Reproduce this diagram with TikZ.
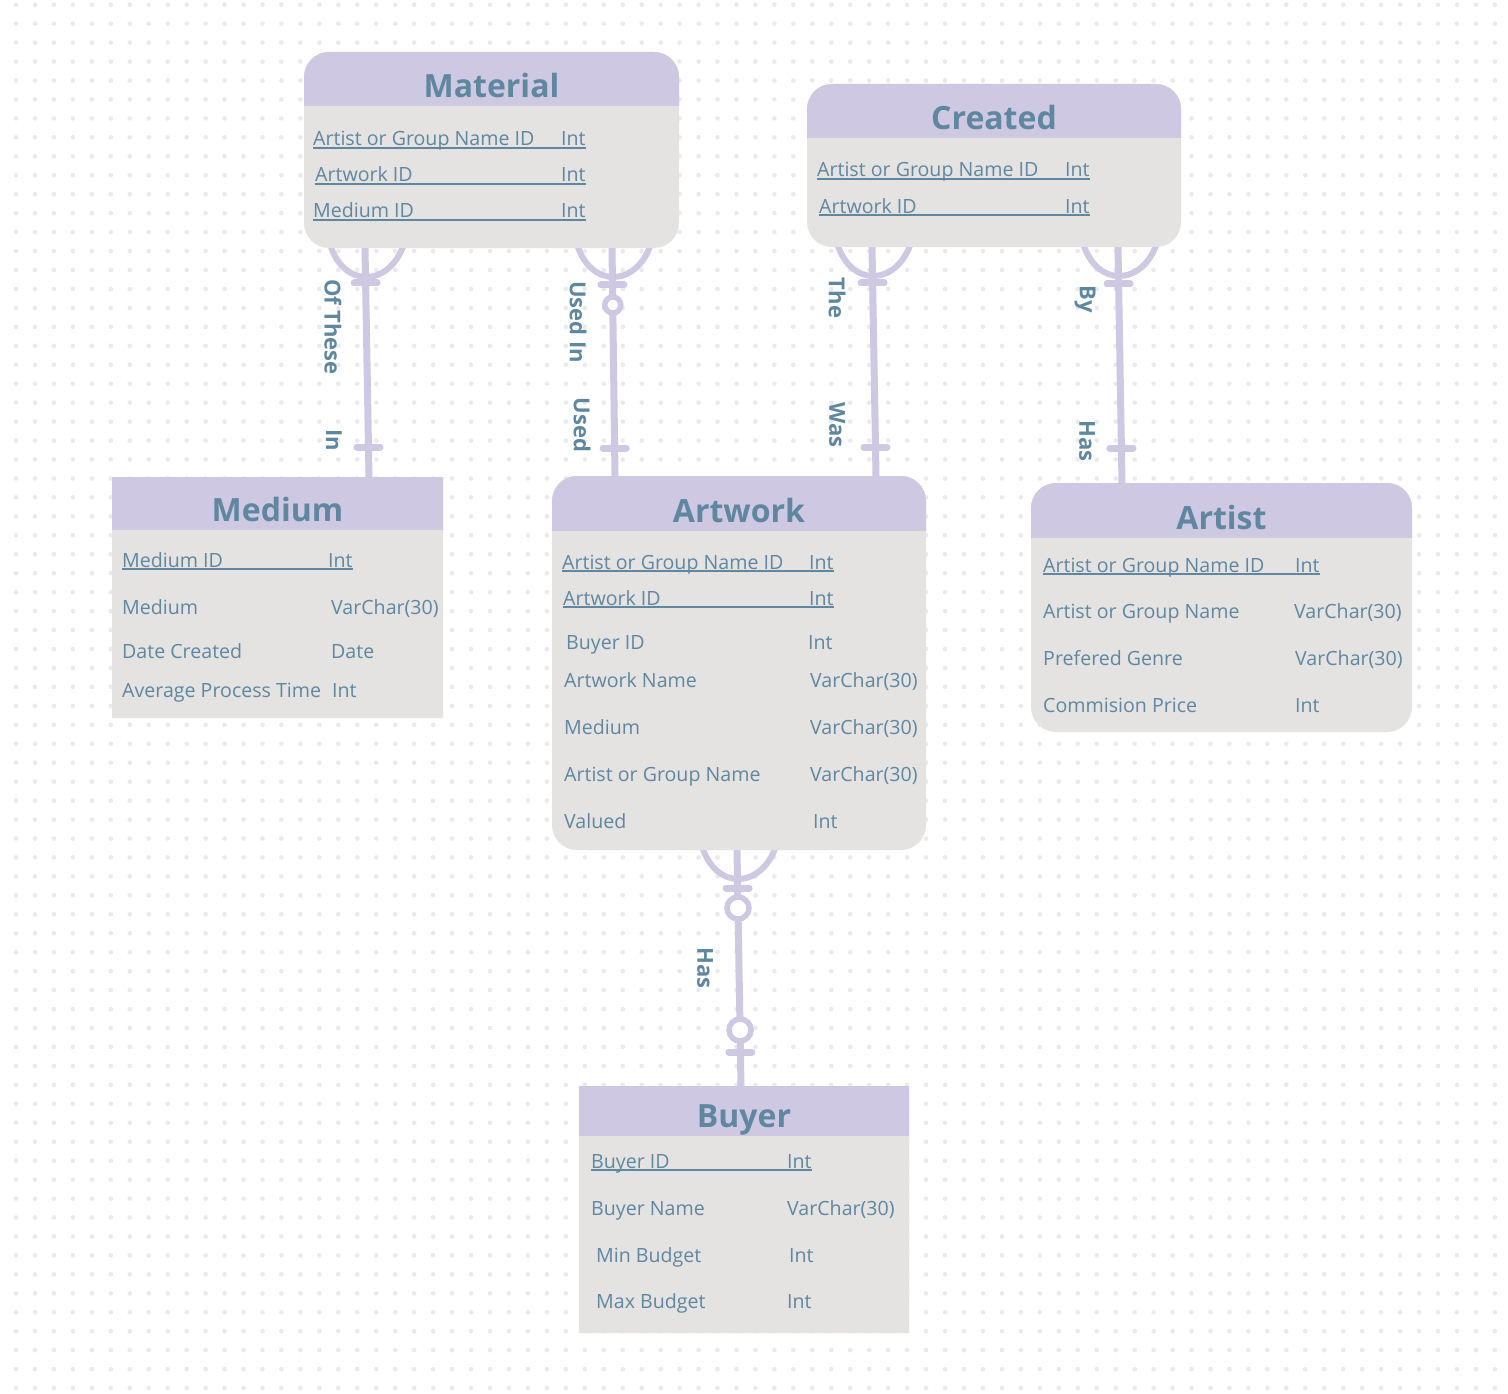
\documentclass[tikz,border=0pt]{standalone}
\usepackage{fontspec}
\setmainfont{Open Sans}
\usepackage{tikz}
\usetikzlibrary{calc}
\definecolor{erHead}{HTML}{CEC8E2}
\definecolor{erBody}{HTML}{E4E3E2}
\definecolor{erText}{HTML}{5F87A0}
\definecolor{erLine}{HTML}{CEC8E2}
\definecolor{erDot}{HTML}{E9E9EF}
\pgfdeclarelayer{back}
\pgfsetlayers{back,main}
\tikzset{
	entbody/.style={fill=erBody, draw=none, inner sep=0, outer sep=0},
	enttitle/.style={anchor=base, inner sep=0, text=erText, font=\fontsize{32}{36}\selectfont\bfseries},
	attr/.style={anchor=base west, inner sep=0, text=erText, font=\fontsize{19.6}{22}\selectfont},
	keyline/.style={draw=erText, line width=1.5pt},
	erline/.style={draw=erLine, line width=7pt},
	erfoot/.style={draw=erLine, line width=6pt},
	erbar/.style={draw=erLine, line width=7pt, line cap=round},
	ercirc/.style={draw=erLine, fill=white, line width=5.5pt},
	rel/.style={rotate=-90, inner sep=0, text=erText, font=\fontsize{22}{25}\selectfont\bfseries}
}
\newcommand{\EntityBox}[7][25pt]{
	\node[entbody, rounded corners=#1, minimum width=#4, minimum height=#5] (#2) at (#3) {};
	\begin{scope}
		\clip (#2.north west) rectangle ([yshift=-#6]#2.north east);
		\fill[erHead, rounded corners=#1] (#2.north west) rectangle (#2.south east);
	\end{scope}
	\node[enttitle] (#2Title) at ([yshift=-#6+8]#2.north) {#7};
}
\newcommand{\Attr}[6]{
	\node[attr] (#1) at (#2,#3) {#4};
	\node[attr] (#1Type) at (#5,#3) {#6};
}
\newcommand{\KeyAttr}[6]{
	\Attr{#1}{#2}{#3}{#4}{#5}{#6}
	\draw[keyline] ([yshift=-2]#1.base west) -- ([yshift=-2]#1Type.base east);
}
\newcommand{\ManyEnd}[1]{
	\draw[erfoot] ($(#1)+(-35,-4)$) .. controls ($(#1)+(-22,40)$) and ($(#1)+(24,40)$) .. ($(#1)+(39,-4)$);
}
\newcommand{\OneBar}[1]{
	\draw[erbar] ($(#1)+(-11.5,0)$) -- ($(#1)+(11.5,0)$);
}
\begin{document}
\begin{tikzpicture}[x=1pt, y=-1pt]

	\useasboundingbox (0,0) rectangle (1508,1394);

	\EntityBox{material}{491.5,150}{375}{196}{54}{Material}
	\EntityBox{created}{994,165.5}{374}{163}{54}{Created}
	\EntityBox[0.1pt]{medium}{277.5,597.5}{331}{241}{52}{Medium}
	\EntityBox{artwork}{739,663}{374}{374}{54}{Artwork}
	\EntityBox{artist}{1221.5,607.5}{381}{249}{54}{Artist}
	\EntityBox[0.1pt]{buyer}{744,1209.5}{330}{247}{49}{Buyer}

	\KeyAttr{matA}{313}{146}{Artist or Group Name ID}{561}{Int}
	\KeyAttr{matB}{315}{182}{Artwork ID}{561}{Int}
	\KeyAttr{matC}{313}{218}{Medium ID}{561}{Int}

	\KeyAttr{creA}{817}{177}{Artist or Group Name ID}{1065}{Int}
	\KeyAttr{creB}{819}{213}{Artwork ID}{1065}{Int}

	\KeyAttr{medA}{122}{567}{Medium ID}{328}{Int}
	\Attr{medB}{122}{614}{Medium}{331}{VarChar(30)}
	\Attr{medC}{122}{658}{Date Created}{331}{Date}
	\Attr{medD}{122}{697}{Average Process Time}{332}{Int}

	\KeyAttr{artA}{562}{569}{Artist or Group Name ID}{809}{Int}
	\KeyAttr{artB}{563}{605}{Artwork ID}{809}{Int}
	\Attr{artC}{566}{649}{Buyer ID}{808}{Int}
	\Attr{artD}{564}{687}{Artwork Name}{810}{VarChar(30)}
	\Attr{artE}{564}{734}{Medium}{810}{VarChar(30)}
	\Attr{artF}{564}{781}{Artist or Group Name}{810}{VarChar(30)}
	\Attr{artG}{564}{828}{Valued}{813}{Int}

	\KeyAttr{atsA}{1043}{572}{Artist or Group Name ID}{1295}{Int}
	\Attr{atsB}{1043}{618}{Artist or Group Name}{1294}{VarChar(30)}
	\Attr{atsC}{1043}{665}{Prefered Genre}{1295}{VarChar(30)}
	\Attr{atsD}{1043}{712}{Commision Price}{1295}{Int}

	\KeyAttr{buyA}{591}{1168}{Buyer ID}{787}{Int}
	\Attr{buyB}{591}{1215}{Buyer Name}{787}{VarChar(30)}
	\Attr{buyC}{596}{1262}{Min Budget}{789}{Int}
	\Attr{buyD}{596}{1308}{Max Budget}{787}{Int}

	\coordinate (matMedTop) at ([xshift=61]material.south west);
	\coordinate (matMedBot) at ([xshift=257]medium.north west);
	\coordinate (matArtTop) at ([xshift=308]material.south west);
	\coordinate (matArtBot) at ([xshift=63]artwork.north west);
	\coordinate (creArtTop) at ([xshift=65]created.south west);
	\coordinate (creArtBot) at ([xshift=324]artwork.north west);
	\coordinate (creAtsTop) at ([xshift=311]created.south west);
	\coordinate (creAtsBot) at ([xshift=91]artist.north west);
	\coordinate (artBuyTop) at ([xshift=185]artwork.south west);
	\coordinate (artBuyBot) at ([xshift=162]buyer.north west);

	\begin{pgfonlayer}{back}
		\fill[white] (0,0) rectangle (1508,1394);
		\foreach \i in {0,...,78}{
			\foreach \j in {0,...,73}{
				\fill[erDot] (16+18.96*\i,4.7+18.95*\j) circle (2.3pt);
			}
		}

		\draw[erline] (matMedTop) -- (matMedBot);
		\ManyEnd{matMedTop}
		\OneBar{$(matMedTop)!35pt!(matMedBot)$}
		\OneBar{$(matMedBot)!30pt!(matMedTop)$}

		\draw[erline] (matArtTop) -- (matArtBot);
		\ManyEnd{matArtTop}
		\OneBar{$(matArtTop)!37pt!(matArtBot)$}
		\draw[ercirc] ($(matArtTop)!57pt!(matArtBot)$) circle (8pt);
		\OneBar{$(matArtBot)!28pt!(matArtTop)$}

		\draw[erline] (creArtTop) -- (creArtBot);
		\ManyEnd{creArtTop}
		\OneBar{$(creArtTop)!36pt!(creArtBot)$}
		\OneBar{$(creArtBot)!29pt!(creArtTop)$}

		\draw[erline] (creAtsTop) -- (creAtsBot);
		\ManyEnd{creAtsTop}
		\OneBar{$(creAtsTop)!37pt!(creAtsBot)$}
		\OneBar{$(creAtsBot)!35pt!(creAtsTop)$}

		\draw[erline] (artBuyTop) -- (artBuyBot);
		\ManyEnd{artBuyTop}
		\OneBar{$(artBuyTop)!38pt!(artBuyBot)$}
		\draw[ercirc] ($(artBuyTop)!58pt!(artBuyBot)$) circle (11pt);
		\draw[ercirc] ($(artBuyBot)!56pt!(artBuyTop)$) circle (11pt);
		\OneBar{$(artBuyBot)!34pt!(artBuyTop)$}
	\end{pgfonlayer}

	\node[rel] (lblOfThese) at (333,327) {Of These};
	\node[rel] (lblIn) at (334,440) {In};
	\node[rel] (lblUsedIn) at (578,322) {Used In};
	\node[rel] (lblUsed) at (582,425) {Used};
	\node[rel] (lblThe) at (837,298) {The};
	\node[rel] (lblWas) at (837,425) {Was};
	\node[rel] (lblBy) at (1085,299) {By};
	\node[rel] (lblHasA) at (1087,441) {Has};
	\node[rel] (lblHasB) at (705,968) {Has};

\end{tikzpicture}
\end{document}
